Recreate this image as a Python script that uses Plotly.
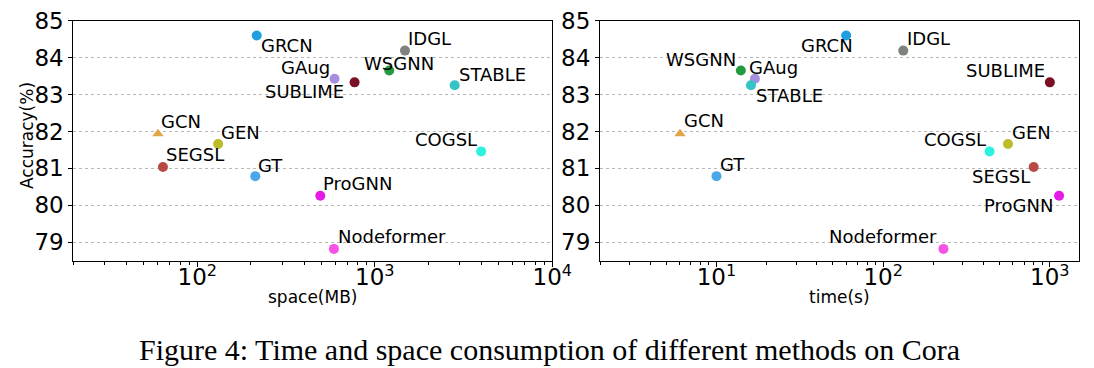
import numpy as np
import plotly.graph_objects as go

# ---------------- data ----------------
methods = ["GRCN", "IDGL", "GAug", "SUBLIME", "WSGNN", "STABLE", "GCN",
           "GEN", "COGSL", "SEGSL", "GT", "ProGNN", "Nodeformer"]
accuracy = [84.60, 84.19, 83.43, 83.33, 83.65, 83.25, 81.94,
            81.66, 81.46, 81.04, 80.79, 80.26, 78.82]
space_mb = [216, 1479, 593, 769, 1206, 2818, 60,
            131, 3972, 64, 212, 493, 588]
time_s = [60, 132, 17.0, 1000, 14.0, 16.1, 6.04,
          561, 435, 800, 10.0, 1136, 230]

x_titles = ["space(MB)", "time(s)"]
y_title = "Accuracy(%)"
caption = "Figure 4: Time and space consumption of different methods on Cora"
left_ticks = [100, 1000, 10000]
left_ticktext = ["10<sup>2</sup>", "10<sup>3</sup>", "10<sup>4</sup>"]
right_ticks = [10, 100, 1000]
right_ticktext = ["10<sup>1</sup>", "10<sup>2</sup>", "10<sup>3</sup>"]
y_ticks = [79, 80, 81, 82, 83, 84, 85]

# ---------------- styles ----------------
colors = ["#1f9fe0", "#7f837e", "#a58fdf", "#7b1022", "#239a3f", "#35c3c3",
          "#e2a64a", "#bcbc2a", "#2ef2e0", "#b84a45", "#4aa8e8", "#e619e6",
          "#f553e6"]
symbols = ["circle"] * 6 + ["triangle-up"] + ["circle"] * 6
# label placement: (xanchor, xshift px, yshift px)
left_lab = [("left", 2, -10), ("left", 1, 12), ("right", -3, 11),
            ("right", -9, -9), ("center", 10, 7), ("left", 2, 11),
            ("left", 1, 12), ("left", 1, 12), ("right", -2, 12),
            ("left", 1, 12), ("left", 1, 11), ("left", 1, 12),
            ("left", 2, 12)]
right_lab = [("right", 9, -10), ("left", 2, 12), ("left", -8, 11),
             ("right", -3, 12), ("right", -3, 11), ("left", 3, -10),
             ("left", 2, 13), ("left", 2, 12), ("right", -2, 12),
             ("right", -2, -10), ("left", 1, 12), ("right", -4, -10),
             ("right", -4, 12)]

W, H = 1094, 368
FONT = "DejaVu Sans"
dom_y = [1 - 260.7 / H, 1 - 20.7 / H]
dom_x1 = [73.3 / W, 552.3 / W]
dom_x2 = [600.0 / W, 1078.7 / W]


def px(xp, yp):
    return xp / W, 1 - yp / H


fig = go.Figure()
for xs, xa, ya in [(space_mb, "x", "y"), (time_s, "x2", "y2")]:
    fig.add_trace(go.Scatter(
        x=xs, y=accuracy, mode="markers", xaxis=xa, yaxis=ya,
        marker=dict(color=colors, symbol=symbols, size=10, line=dict(width=0)),
        showlegend=False, hoverinfo="text", text=methods))

annotations = []
for xs, labs, xr, yr in [(space_mb, left_lab, "x", "y"), (time_s, right_lab, "x2", "y2")]:
    for name, xv, yv, (anc, dx, dy) in zip(methods, xs, accuracy, labs):
        annotations.append(dict(
            x=np.log10(xv), y=yv, xref=xr, yref=yr, text=name, showarrow=False,
            xanchor=anc, yanchor="middle", xshift=dx, yshift=dy,
            font=dict(family=FONT, size=18, color="black")))

# axis titles and caption
for text, (xp, yp), ang in [(x_titles[0], (312.8, 297), 0),
                            (x_titles[1], (839.4, 297), 0),
                            (y_title, (27, 136), -90)]:
    ax, ay = px(xp, yp)
    annotations.append(dict(x=ax, y=ay, xref="paper", yref="paper", text=text,
                            showarrow=False, xanchor="center", yanchor="middle",
                            textangle=ang,
                            font=dict(family=FONT, size=17, color="black")))
cx, cy = px(549, 349)
annotations.append(dict(
    x=cx, y=cy, xref="paper", yref="paper", text=caption,
    showarrow=False, xanchor="center", yanchor="middle",
    font=dict(family="Liberation Serif", size=30, color="black")))

axis_common = dict(
    type="log", showgrid=False, showline=True, linecolor="black", linewidth=1,
    mirror=True, ticks="outside", ticklen=5, tickwidth=1, tickcolor="black",
    tickfont=dict(family=FONT, size=23, color="black"), zeroline=False,
    automargin=False, ticklabelstandoff=-9)
yaxis_common = dict(
    range=[78.5, 85], tickvals=y_ticks, showgrid=True, gridcolor="#b8b8b8",
    griddash="dot", gridwidth=1, showline=True, linecolor="black", linewidth=1,
    mirror=True, ticks="outside", ticklen=4, tickcolor="black", zeroline=False,
    automargin=False,
    tickfont=dict(family=FONT, size=23, color="black"), domain=dom_y)

fig.update_layout(
    width=W, height=H, margin=dict(l=0, r=0, t=0, b=0),
    paper_bgcolor="white", plot_bgcolor="white",
    xaxis=dict(axis_common, domain=dom_x1, anchor="y",
               range=[np.log10(20), 4], tickvals=left_ticks,
               ticktext=left_ticktext,
               minor=dict(tickvals=[v * m for m in (1, 10, 100) for v in range(20, 100, 10)],
                          ticks="outside", ticklen=3, tickcolor="black")),
    xaxis2=dict(axis_common, domain=dom_x2, anchor="y2",
                range=[np.log10(2), np.log10(1490)], tickvals=right_ticks,
                ticktext=right_ticktext,
                minor=dict(tickvals=[v * m for m in (1, 10, 100) for v in range(2, 10)],
                           ticks="outside", ticklen=3, tickcolor="black")),
    yaxis=dict(yaxis_common, anchor="x"),
    yaxis2=dict(yaxis_common, anchor="x2"),
    annotations=annotations,
)

fig.write_html("out.html", config={"displayModeBar": False},
               post_script="document.body.style.margin='0';document.body.style.padding='0';")
